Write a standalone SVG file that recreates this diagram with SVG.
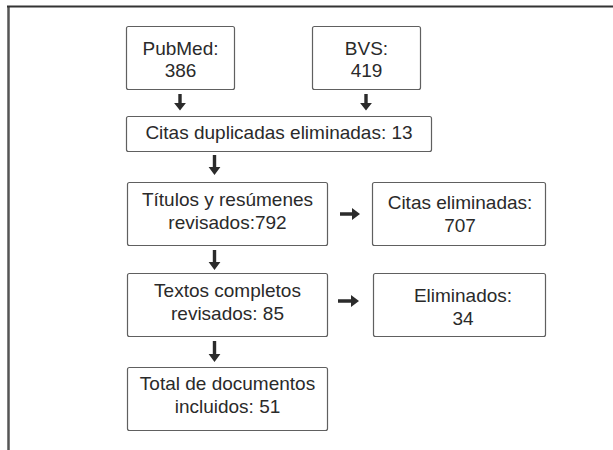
<svg xmlns="http://www.w3.org/2000/svg" width="613" height="450" viewBox="0 0 613 450">
<style>
.box{fill:#fff;stroke:#606060;stroke-width:1.2}
.t{font-family:"Liberation Sans",Arial,sans-serif;font-size:19px;fill:#2a2a2a;text-anchor:middle}
.arr{fill:#2b2b2b;stroke:none}
</style>
<rect width="613" height="450" fill="#fff"/>
<g id="frame">
<line x1="8.5" y1="6" x2="8.5" y2="450" stroke="#555" stroke-width="2.5"/>
<line x1="7" y1="6.5" x2="613" y2="6.5" stroke="#333" stroke-width="2"/>
</g>
<g id="pubmed">
<rect class="box" x="126.5" y="26.5" width="108" height="63" rx="2"/>
<text class="t" x="180.5" y="55">PubMed:</text>
<text class="t" x="180.5" y="77">386</text>
</g>
<g id="bvs">
<rect class="box" x="312.5" y="26.5" width="108" height="63" rx="2"/>
<text class="t" x="366.5" y="55">BVS:</text>
<text class="t" x="366.5" y="77">419</text>
</g>
<g id="duplicadas">
<rect class="box" x="126.5" y="116.5" width="305" height="35" rx="2"/>
<text class="t" x="279" y="139">Citas duplicadas eliminadas: 13</text>
</g>
<g id="titulos">
<rect class="box" x="127.5" y="182.5" width="200" height="63" rx="2"/>
<text class="t" x="227.5" y="206">Títulos y resúmenes</text>
<text class="t" x="227.5" y="228.5">revisados:792</text>
</g>
<g id="citas-eliminadas">
<rect class="box" x="372.5" y="182.5" width="173" height="63" rx="2"/>
<text class="t" x="460" y="208.5">Citas eliminadas:</text>
<text class="t" x="460" y="231.5">707</text>
</g>
<g id="textos">
<rect class="box" x="127.5" y="273.5" width="200" height="63" rx="2"/>
<text class="t" x="227.5" y="297">Textos completos</text>
<text class="t" x="227.5" y="319.5">revisados: 85</text>
</g>
<g id="eliminados">
<rect class="box" x="373.5" y="273.5" width="172" height="63" rx="2"/>
<text class="t" x="463" y="302">Eliminados:</text>
<text class="t" x="463" y="324.5">34</text>
</g>
<g id="total">
<rect class="box" x="127.5" y="367.5" width="200" height="63" rx="2"/>
<text class="t" x="227.5" y="389.5">Total de documentos</text>
<text class="t" x="227.5" y="412.5">incluidos: 51</text>
</g>
<g id="connectors">
<path class="arr" d="M178.3,94 h3.4 v9 h4.2 l-5.9,7.5 l-5.9,-7.5 h4.2 z"/>
<path class="arr" d="M364.3,94 h3.4 v9 h4.2 l-5.9,7.5 l-5.9,-7.5 h4.2 z"/>
<path class="arr" d="M212.8,155 h3.4 v12 h4.2 l-5.9,8 l-5.9,-8 h4.2 z"/>
<path class="arr" d="M212.8,250 h3.4 v12 h4.2 l-5.9,8 l-5.9,-8 h4.2 z"/>
<path class="arr" d="M212.8,341 h3.4 v13 h4.2 l-5.9,8 l-5.9,-8 h4.2 z"/>
<path class="arr" d="M340,212.3 h12 v-4.2 l8,5.9 l-8,5.9 v-4.2 h-12 z"/>
<path class="arr" d="M338,299.3 h13 v-4.2 l8,5.9 l-8,5.9 v-4.2 h-13 z"/>
</g>
</svg>
